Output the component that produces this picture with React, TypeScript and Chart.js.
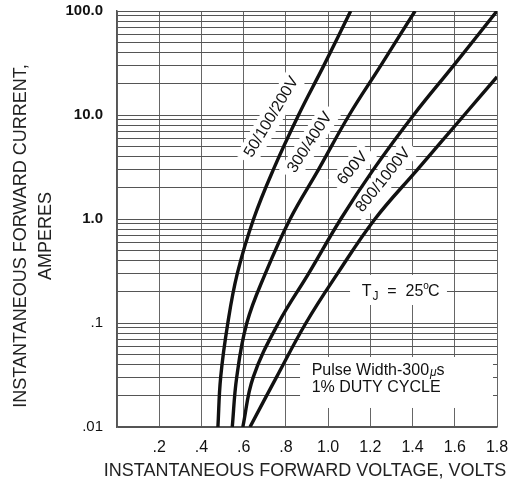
import React, { useEffect, useRef } from 'react';
import { Chart, registerables } from 'chart.js';

Chart.register(...registerables);

// ---- data ----
const CURRENT_ABC = [0.01, 0.03, 0.1, 0.3, 1, 3, 10, 30, 100];
const VOLT_50_200 = [0.478, 0.491, 0.525, 0.57, 0.647, 0.741, 0.86, 0.98, 1.107];
const VOLT_300_400 = [0.546, 0.567, 0.615, 0.703, 0.82, 0.955, 1.1, 1.25, 1.412];
const VOLT_600 = [0.596, 0.645, 0.765, 0.908, 1.06, 1.215, 1.405, 1.595, 1.8];
const CURRENT_D = [0.01, 0.03, 0.1, 0.3, 1, 3, 10, 23.3];
const VOLT_800_1000 = [0.63, 0.755, 0.895, 1.045, 1.222, 1.424, 1.645, 1.8];

const X_TICKS = [0, 0.2, 0.4, 0.6, 0.8, 1.0, 1.2, 1.4, 1.6, 1.8];
const Y_DECADES = [0.01, 0.1, 1, 10];
const Y_MAJOR_LABELS: Record<string, string> = { '100': '100.0', '10': '10.0', '1': '1.0', '0.1': '.1', '0.01': '.01' };

const X_TITLE = 'INSTANTANEOUS FORWARD VOLTAGE, VOLTS';
const Y_TITLE = ['INSTANTANEOUS FORWARD CURRENT,', 'AMPERES'];

const CURVE_LABELS = ['50/100/200V', '300/400V', '600V', '800/1000V'];
const CURVE_LABEL_V = [0.732, 0.914, 1.116, 1.261];
const CURVE_LABEL_I = [9.57, 5.44, 3.07, 2.37];
const CURVE_LABEL_ANGLE = [-59, -57, -49.5, -51.3];

const TJ_BOX = { v0: 1.104, v1: 1.563, i0: 0.29, i1: 0.149, tv: 1.159, ti: 0.199 };
const PULSE_BOX = { v0: 0.867, v1: 1.781, i0: 0.0471, i1: 0.01524, tv: 0.922, ti1: 0.0345, ti2: 0.0237 };

const FONT = '"Liberation Sans", Arial, Helvetica, sans-serif';

function pts(v: number[], i: number[]) {
  return v.map((x, k) => ({ x, y: i[k] }));
}

const annotationPlugin = {
  id: 'annotations',
  beforeDatasetsDraw(chart: any) {
    const { ctx } = chart;
    const xs = chart.scales.x;
    const ys = chart.scales.y;
    ctx.save();
    // curve labels with white backing
    ctx.font = `16px ${FONT}`;
    CURVE_LABELS.forEach((txt, k) => {
      const px = xs.getPixelForValue(CURVE_LABEL_V[k]);
      const py = ys.getPixelForValue(CURVE_LABEL_I[k]);
      const w = ctx.measureText(txt).width;
      ctx.save();
      ctx.translate(px, py);
      ctx.rotate((CURVE_LABEL_ANGLE[k] * Math.PI) / 180);
      ctx.fillStyle = '#fff';
      ctx.fillRect(-w / 2 - 6, -11, w + 12, 22);
      ctx.fillStyle = '#111';
      ctx.textAlign = 'center';
      ctx.textBaseline = 'middle';
      ctx.fillText(txt, 0, 0);
      ctx.restore();
    });

    // TJ box
    {
      const x0 = xs.getPixelForValue(TJ_BOX.v0);
      const x1 = xs.getPixelForValue(TJ_BOX.v1);
      const y0 = ys.getPixelForValue(TJ_BOX.i0);
      const y1 = ys.getPixelForValue(TJ_BOX.i1);
      ctx.fillStyle = '#fff';
      ctx.fillRect(x0, y0, x1 - x0, y1 - y0);
      let tx = xs.getPixelForValue(TJ_BOX.tv);
      const ty = ys.getPixelForValue(TJ_BOX.ti);
      ctx.fillStyle = '#111';
      ctx.textBaseline = 'middle';
      ctx.textAlign = 'left';
      ctx.font = `16px ${FONT}`;
      ctx.fillText('T', tx, ty);
      tx += ctx.measureText('T').width + 1;
      ctx.font = `12px ${FONT}`;
      ctx.fillText('J', tx, ty + 5);
      tx += ctx.measureText('J').width;
      ctx.font = `16px ${FONT}`;
      ctx.fillText('  =  25', tx, ty);
      tx += ctx.measureText('  =  25').width;
      ctx.font = `10px ${FONT}`;
      ctx.fillText('o', tx, ty - 6);
      tx += ctx.measureText('o').width - 1;
      ctx.font = `16px ${FONT}`;
      ctx.fillText('C', tx, ty);
    }

    // Pulse box
    {
      const x0 = xs.getPixelForValue(PULSE_BOX.v0);
      const x1 = xs.getPixelForValue(PULSE_BOX.v1);
      const y0 = ys.getPixelForValue(PULSE_BOX.i0);
      const y1 = ys.getPixelForValue(PULSE_BOX.i1);
      ctx.fillStyle = '#fff';
      ctx.fillRect(x0, y0, x1 - x0, y1 - y0);
      let tx = xs.getPixelForValue(PULSE_BOX.tv);
      const ty1 = ys.getPixelForValue(PULSE_BOX.ti1);
      const ty2 = ys.getPixelForValue(PULSE_BOX.ti2);
      ctx.fillStyle = '#111';
      ctx.textBaseline = 'middle';
      ctx.textAlign = 'left';
      ctx.font = `16px ${FONT}`;
      ctx.fillText('1% DUTY CYCLE', tx, ty2);
      ctx.fillText('Pulse Width-300', tx, ty1);
      tx += ctx.measureText('Pulse Width-300').width + 1;
      ctx.font = `italic 12px ${FONT}`;
      ctx.fillText('\u03bc', tx, ty1 + 2);
      tx += ctx.measureText('\u03bc').width;
      ctx.font = `16px ${FONT}`;
      ctx.fillText('s', tx, ty1);
    }
    ctx.restore();
  },
  afterDraw(chart: any) {
    const { ctx, chartArea } = chart;
    ctx.save();
    ctx.fillStyle = '#222';
    ctx.font = `18px ${FONT}`;
    ctx.textAlign = 'center';
    ctx.textBaseline = 'middle';
    // x-axis title
    ctx.fillText(X_TITLE, (chartArea.left + chartArea.right) / 2 - 2, chartArea.bottom + 44);
    // y-axis title
    const cy = (chartArea.top + chartArea.bottom) / 2 + 17;
    ctx.translate(21.5, cy);
    ctx.rotate(-Math.PI / 2);
    ctx.fillText(Y_TITLE[0], 0, 0);
    ctx.fillText(Y_TITLE[1], 0, 25);
    ctx.restore();
  },
};

export default function App() {
  const ref = useRef<HTMLCanvasElement | null>(null);
  useEffect(() => {
    if (!ref.current) return;
    const lineStyle = {
      showLine: true,
      borderColor: '#111',
      borderWidth: 3.4,
      pointRadius: 0,
      tension: 0.4,
      fill: false,
    };
    const chart = new Chart(ref.current, {
      type: 'scatter',
      data: {
        datasets: [
          { label: '50/100/200V', data: pts(VOLT_50_200, CURRENT_ABC), ...lineStyle },
          { label: '300/400V', data: pts(VOLT_300_400, CURRENT_ABC), ...lineStyle },
          { label: '600V', data: pts(VOLT_600, CURRENT_ABC), ...lineStyle },
          { label: '800/1000V', data: pts(VOLT_800_1000, CURRENT_D), ...lineStyle },
        ],
      },
      options: {
        animation: false,
        responsive: true,
        maintainAspectRatio: false,
        layout: { padding: { top: 11, right: 23, bottom: 0, left: 0 } },
        plugins: { legend: { display: false }, tooltip: { enabled: false }, title: { display: false } },
        scales: {
          x: {
            type: 'linear',
            min: 0,
            max: 1.8,
            afterBuildTicks: (s: any) => {
              s.ticks = X_TICKS.map((v) => ({ value: v }));
            },
            afterFit: (s: any) => {
              s.height = 55;
            },
            ticks: {
              autoSkip: false,
              maxRotation: 0,
              padding: 0,
              color: '#111',
              font: { family: FONT, size: 16 },
              callback: (v: any) => {
                const n = Number(v);
                if (n === 0) return '';
                const s = n.toFixed(1);
                return n < 1 ? s.replace(/^0/, '') : s;
              },
            },
            grid: { color: '#666', lineWidth: 1, drawTicks: true, tickLength: 11, tickColor: 'rgba(0,0,0,0)' },
            border: { color: '#555', width: 1.5 },
            title: { display: false },
          },
          y: {
            type: 'logarithmic',
            min: 0.01,
            max: 100,
            afterBuildTicks: (s: any) => {
              const t: any[] = [];
              Y_DECADES.forEach((d) => {
                for (let m = 1; m <= 9; m++) t.push({ value: Number((m * d).toPrecision(3)) });
              });
              t.push({ value: 100 });
              s.ticks = t;
            },
            afterFit: (s: any) => {
              s.width = 117;
            },
            ticks: {
              autoSkip: false,
              padding: 0,
              color: '#111',
              font: (c: any) => ({
                family: FONT,
                size: 15,
                weight: c.tick && c.tick.value >= 1 ? 'bold' : 'normal',
              }),
              callback: (v: any) => {
                const key = String(Number(v));
                return Y_MAJOR_LABELS[key] ?? '';
              },
            },
            grid: { color: '#555', lineWidth: 1, drawTicks: true, tickLength: 14, tickColor: 'rgba(0,0,0,0)' },
            border: { color: '#555', width: 1.5 },
          },
        },
      },
      plugins: [annotationPlugin],
    });
    return () => chart.destroy();
  }, []);
  return (
    <div style={{ position: 'absolute', left: 0, top: 0, width: 520, height: 482, background: '#fff' }}>
      <canvas ref={ref} />
    </div>
  );
}
